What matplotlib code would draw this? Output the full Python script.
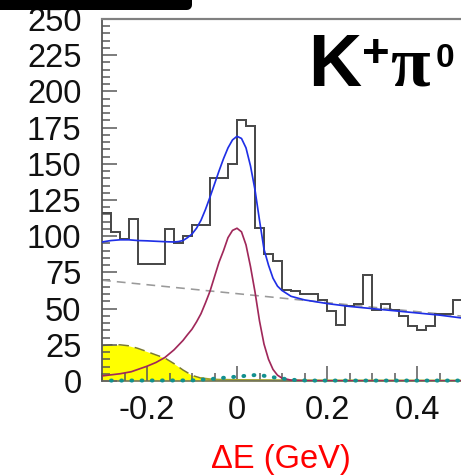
import numpy as np
import matplotlib
matplotlib.use('Agg')
import matplotlib.pyplot as plt
from matplotlib.lines import Line2D
from matplotlib.ticker import MultipleLocator, FixedLocator

plt.rcParams['font.family'] = ['Liberation Sans', 'DejaVu Sans']
plt.rcParams['axes.unicode_minus'] = False

# ---------------- data ----------------
bin_lo, bin_hi, bin_w = -0.30, 0.50, 0.02
counts = [116, 103, 98, 112, 81, 81, 81, 105, 95, 100,
          108, 108, 140, 140, 150, 180, 176, 106, 88, 83,
          63, 62, 60, 60, 56, 48, 39, 52, 53, 73,
          49, 53, 49, 45, 38, 35, 38, 46, 46, 56]

total_x = [-0.30, -0.28, -0.26, -0.24, -0.22, -0.20, -0.18, -0.16, -0.14, -0.13,
           -0.12, -0.11, -0.10, -0.09, -0.08, -0.07, -0.06, -0.05, -0.04, -0.03,
           -0.02, -0.01, 0.00, 0.01, 0.02, 0.03, 0.04, 0.05, 0.06, 0.07,
           0.08, 0.09, 0.10, 0.12, 0.15, 0.20, 0.25, 0.30, 0.35, 0.40, 0.45, 0.50]
total_y = [96.0, 97.0, 97.5, 97.5, 97.0, 96.8, 96.5, 96.2, 96.0, 96.3,
           97.0, 99.0, 101.5, 105.5, 111.0, 118.5, 127.0, 136.0, 145.0, 153.5,
           161.0, 166.5, 169.0, 167.5, 161.0, 148.5, 132.0, 111.0, 91.0, 80.0,
           71.0, 65.5, 62.5, 58.5, 56.0, 53.5, 51.5, 50.0, 48.5, 47.0, 45.5, 43.5]

signal_x = [-0.30, -0.26, -0.235, -0.20, -0.18, -0.16, -0.14, -0.12, -0.11, -0.10,
            -0.09, -0.08, -0.07, -0.06, -0.05, -0.04, -0.03, -0.02, -0.01, 0.00,
            0.01, 0.02, 0.03, 0.04, 0.05, 0.06, 0.07, 0.08, 0.09, 0.10,
            0.12, 0.15, 0.20, 0.30, 0.50]
signal_y = [3.5, 5.0, 6.4, 10.2, 12.8, 16.3, 21.5, 28.0, 32.0, 35.8,
            40.8, 46.5, 54.0, 62.0, 72.0, 82.0, 90.0, 99.0, 104.0, 105.5,
            103.0, 94.0, 79.0, 61.5, 41.5, 25.5, 15.0, 8.0, 4.0, 2.0,
            0.6, 0.2, 0.1, 0.0, 0.0]

bkg_x = [-0.30, 0.14, 0.50]
bkg_y = [69.6, 56.0, 44.8]

yellow_x = [-0.30, -0.28, -0.26, -0.24, -0.22, -0.20, -0.18, -0.16, -0.14, -0.12,
            -0.10, -0.08, -0.06, -0.04, -0.02, 0.00, 0.10, 0.20, 0.50]
yellow_y = [24.5, 25.0, 25.0, 24.3, 22.5, 20.3, 18.0, 15.8, 12.0, 7.6,
            3.9, 2.0, 1.2, 0.9, 0.8, 0.7, 0.5, 0.4, 0.3]

teal_x = [-0.30, -0.10, -0.08, -0.06, -0.04, -0.02, 0.00, 0.02, 0.04, 0.06,
          0.08, 0.10, 0.12, 0.14, 0.16, 0.50]
teal_y = [0.3, 0.4, 0.9, 1.3, 1.9, 2.5, 3.0, 3.6, 4.1, 3.6,
          2.6, 1.7, 0.9, 0.5, 0.3, 0.3]

xticks = [-0.2, 0.0, 0.2, 0.4]
xtick_labels = ['-0.2', '0', '0.2', '0.4']
yticks = [0, 25, 50, 75, 100, 125, 150, 175, 200, 225, 250]
ytick_labels = ['0', '25', '50', '75', '100', '125', '150', '175', '200', '225', '250']

# ---------------- figure ----------------
W, H = 461, 476
PX = 72.0 / 100.0  # points per pixel
fig = plt.figure(figsize=(W / 100, H / 100), dpi=100)
ax = fig.add_axes([102 / W, 95 / H, 360 / W, 362 / H])

edges = np.linspace(bin_lo, bin_hi, len(counts) + 1)

ax.fill_between(yellow_x, 0, yellow_y, color='#ffff00', lw=0, zorder=1)
yx = np.array(yellow_x)
yy = np.array(yellow_y)
hump = yx <= -0.06
tail = yx >= -0.08
ax.plot(yx[hump], yy[hump], color='#7a7a30', lw=1.5 * PX,
        dashes=(7, 4), zorder=1.5)
ax.plot(yx[tail], yy[tail], color='#a3a32a', lw=2.0 * PX, zorder=1.6,
        clip_on=False)
ax.plot(bkg_x, bkg_y, color='#9a9a9a', lw=1.6 * PX, dashes=(5.5, 3.8), zorder=2)
ax.stairs(counts, edges, baseline=None, color='#4a4a4a', lw=2.0 * PX, zorder=3)
ax.plot(signal_x, signal_y, color='#a0285a', lw=1.7 * PX, zorder=4)
ax.plot(total_x, total_y, color='#1f2fe6', lw=1.7 * PX, zorder=4)
ax.plot(teal_x, teal_y, color='#12908f', lw=4.0 * PX,
        linestyle=(0.3, (0.2, 2.35)), dash_capstyle='round',
        clip_on=False, zorder=6)

ax.set_xlim(bin_lo, bin_hi)
ax.set_ylim(0, 250)

ax.xaxis.set_major_locator(FixedLocator(xticks))
ax.set_xticklabels(xtick_labels)
ax.yaxis.set_major_locator(FixedLocator(yticks))
ax.set_yticklabels(ytick_labels)
ax.xaxis.set_minor_locator(MultipleLocator(0.05))
ax.yaxis.set_minor_locator(MultipleLocator(5))

ax.tick_params(axis='both', which='both', direction='in', color='#555555',
               width=1.5 * PX, top=False, right=False)
ax.tick_params(axis='both', which='major', length=15 * PX, labelsize=23.5,
               labelcolor='#111111')
ax.tick_params(axis='both', which='minor', length=8 * PX)
ax.tick_params(axis='y', which='major', pad=14.8)
ax.tick_params(axis='x', which='major', pad=10)

ax.spines['right'].set_visible(False)
ax.spines['top'].set_color('#808080')
ax.spines['top'].set_linewidth(2.2 * PX)
ax.spines['left'].set_color('#555555')
ax.spines['left'].set_linewidth(1.8 * PX)
ax.spines['bottom'].set_color('#666666')
ax.spines['bottom'].set_linewidth(1.5 * PX)

ax.set_xlabel('ΔE (GeV)', color='#ff0000', fontsize=23.5, va='baseline')
ax.xaxis.set_label_coords((281 - 102) / 360, (381 - 468) / 362)


def fx(x):
    return x / W


def fy(y):
    return 1 - y / H


# channel label K+ pi0
fig.text(fx(308), fy(86), 'K', fontsize=53, fontweight='bold',
         family=['Liberation Sans', 'DejaVu Sans'], va='baseline', ha='left')
fig.text(fx(362), fy(67), '+', fontsize=34, fontweight='bold',
         family=['Liberation Sans', 'DejaVu Sans'], va='baseline', ha='left')
fig.text(fx(390), fy(86), 'π', fontsize=52, fontweight='bold',
         family=['Liberation Serif', 'DejaVu Serif'], va='baseline', ha='left')
fig.text(fx(436), fy(67), '0', fontsize=24, fontweight='bold',
         family=['Liberation Sans', 'DejaVu Sans'], va='baseline', ha='left')

# corner of a framed box above the plot (cropped)
fig.add_artist(Line2D([fx(-10), fx(187), fx(187)], [fy(5), fy(5), fy(-30)],
                      color='black', lw=10 * PX, solid_joinstyle='round',
                      transform=fig.transFigure, zorder=10))

fig.savefig('out.png', dpi=100)
